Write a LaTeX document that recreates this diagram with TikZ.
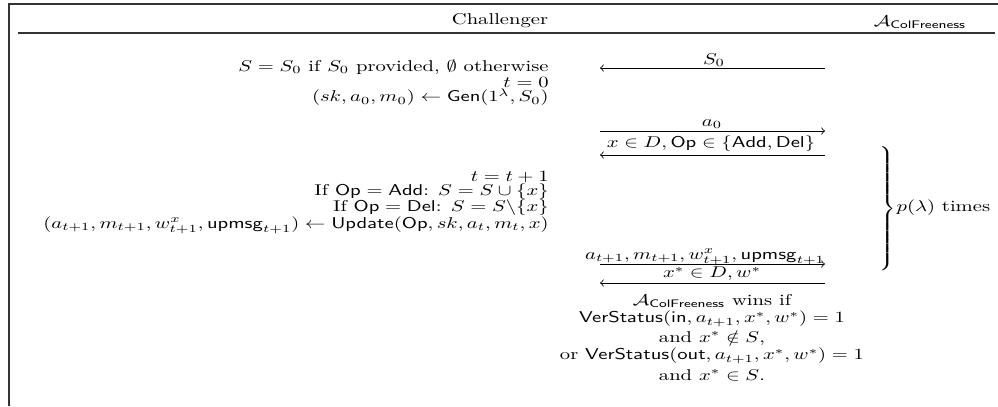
\documentclass[tikz,border=0pt]{standalone}
\usepackage{graphicx}
\usepackage{amsmath}
\newcommand{\vsq}[1]{\scalebox{1}[0.76]{#1}}

\begin{document}
\begin{tikzpicture}[x=0.4854pt, y=-0.4854pt, line width=0.4pt]
  \tikzset{lft/.style={anchor=east, inner sep=0pt}, mid/.style={inner sep=0pt}}
  \useasboundingbox (0,0) rectangle (998,406);
  % --- frame and header ---
  \draw[line width=0.6pt, black!80] (9,406) -- (9,4) -- (998,4);
  \draw[line width=0.6pt, black!80] (18,33) -- (995,33);
  \node[mid] (chal) at (500,21) {\vsq{Challenger}};
  \node[mid] (adv) at (920,22) {\vsq{$\mathcal{A}_{\mathsf{ColFreeness}}$}};
  % --- challenger: setup ---
  \node[lft] (init) at (549,67) {\vsq{$S = S_0$ if $S_0$ provided, $\emptyset$ otherwise}};
  \node[lft] (tzero) at (549,82) {\vsq{$t = 0$}};
  \node[lft] (gen) at (549,97) {\vsq{$(sk, a_0, m_0) \leftarrow \mathsf{Gen}(1^\lambda, S_0)$}};
  % --- challenger: update loop ---
  \node[lft] (tinc) at (549,177) {\vsq{$t = t + 1$}};
  \node[lft] (add) at (549,192) {\vsq{If $\mathsf{Op} = \mathsf{Add}$: $S = S \cup \{x\}$}};
  \node[lft] (del) at (549,208) {\vsq{If $\mathsf{Op} = \mathsf{Del}$: $S = S\backslash\{x\}$}};
  \node[lft] (upd) at (549,225) {\vsq{$(a_{t+1}, m_{t+1}, w^x_{t+1}, \mathsf{upmsg}_{t+1}) \leftarrow \mathsf{Update}(\mathsf{Op}, sk, a_t, m_t, x)$}};
  % --- messages ---
  \coordinate (s0a) at (825,68);  \coordinate (s0b) at (600,68);
  \coordinate (a0a) at (600,131); \coordinate (a0b) at (825,131);
  \coordinate (opa) at (825,155); \coordinate (opb) at (600,155);
  \coordinate (ata) at (600,264); \coordinate (atb) at (825,264);
  \coordinate (xsa) at (825,283); \coordinate (xsb) at (600,283);
  \draw[->] (s0a) -- (s0b);
  \draw[->] (a0a) -- (a0b);
  \draw[->] (opa) -- (opb);
  \draw[->] (ata) -- (atb);
  \draw[->] (xsa) -- (xsb);
  \node[mid] (ls0) at (714,60) {\vsq{$S_0$}};
  \node[mid] (la0) at (712,124) {\vsq{$a_0$}};
  \node[mid] (lop) at (711,144) {\vsq{$x \in D, \mathsf{Op} \in \{\mathsf{Add}, \mathsf{Del}\}$}};
  \node[mid] (lat) at (705,257) {\vsq{$a_{t+1}, m_{t+1}, w^x_{t+1}, \mathsf{upmsg}_{t+1}$}};
  \node[mid] (lxs) at (712,274) {\vsq{$x^* \in D, w^*$}};
  % --- winning condition ---
  \node[mid] (win1) at (712,301) {\vsq{$\mathcal{A}_{\mathsf{ColFreeness}}$ wins if}};
  \node[mid] (win2) at (712,319) {\vsq{$\mathsf{VerStatus}(\mathsf{in}, a_{t+1}, x^*, w^*) = 1$}};
  \node[mid] (win3) at (712,338) {\vsq{and $x^* \notin S$,}};
  \node[mid] (win4) at (712,356) {\vsq{or $\mathsf{VerStatus}(\mathsf{out}, a_{t+1}, x^*, w^*) = 1$}};
  \node[mid] (win5) at (712,375) {\vsq{and $x^* \in S$.}};
  % --- repetition brace ---
  \node[anchor=west, inner sep=0pt] (brc) at (879,208)
    {\scalebox{0.9}[0.72]{\nulldelimiterspace=0pt$\left.\rule[-40pt]{0pt}{86pt}\right\}$}};
  \node[anchor=west, inner sep=0pt] (rept) at (brc.east) {\vsq{$p(\lambda)$ times}};
\end{tikzpicture}
\end{document}
